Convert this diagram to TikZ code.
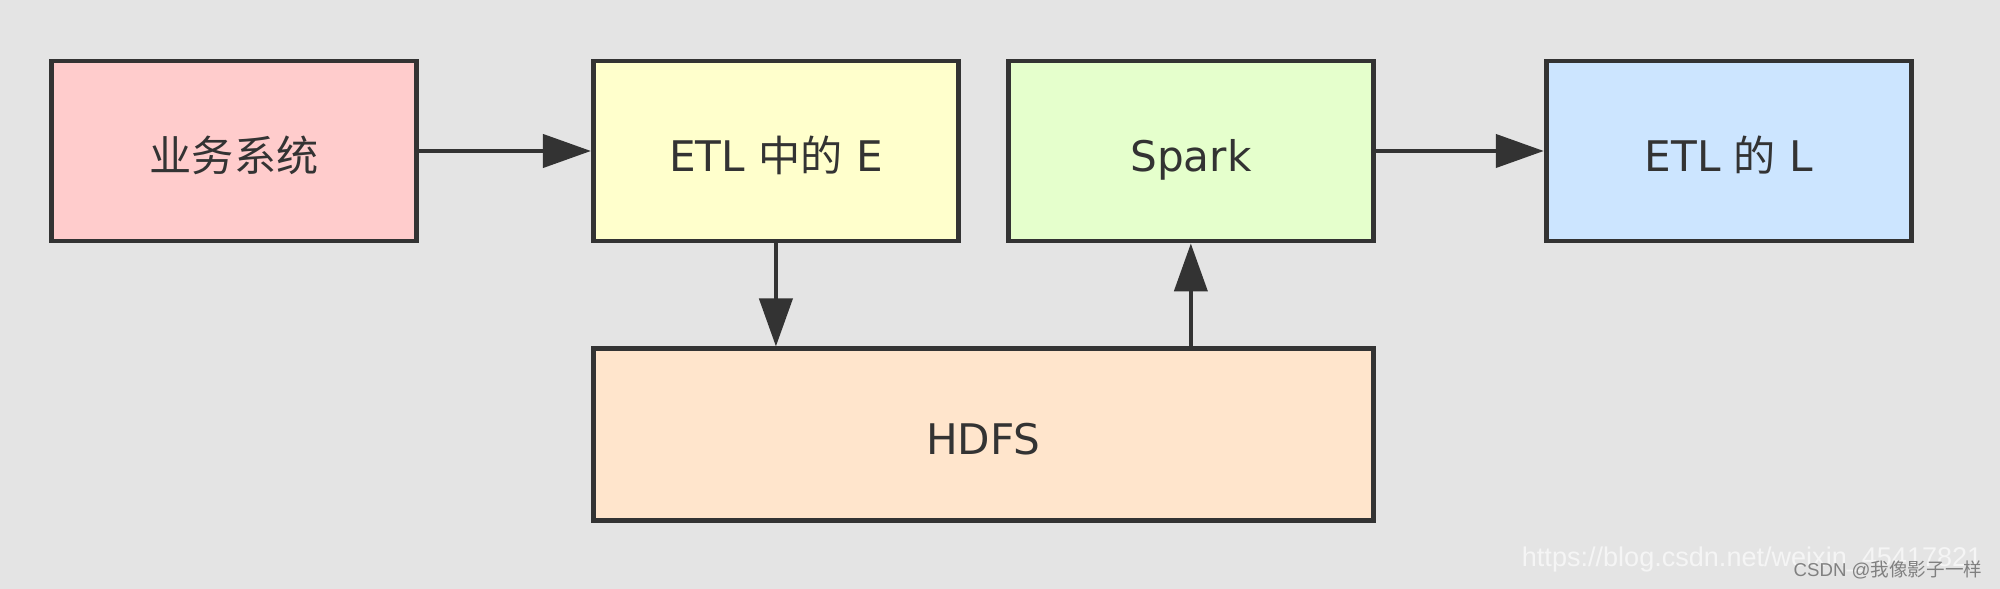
\documentclass[tikz,border=0pt]{standalone}
\usepackage{fontspec}
\setmainfont{DejaVu Sans}
\newfontfamily\cjk{Noto Sans CJK SC}
\newfontfamily\wmfont{Liberation Sans}
\usepackage{xcolor}
\usepackage{tikz}
\usetikzlibrary{arrows.meta,positioning}

\definecolor{bgGray}{HTML}{E4E4E4}
\definecolor{lineDark}{HTML}{333333}
\definecolor{pinkFill}{HTML}{FFCCCC}
\definecolor{yellowFill}{HTML}{FFFFCC}
\definecolor{greenFill}{HTML}{E5FFCC}
\definecolor{blueFill}{HTML}{CCE5FF}
\definecolor{peachFill}{HTML}{FFE5CC}

\begin{document}
\begin{tikzpicture}[
    >={Triangle[length=4.8mm, width=3.3mm]},
    box/.style={
        rectangle, draw=lineDark, line width=1.4pt,
        minimum width=3.65cm, minimum height=1.80cm,
        text height=12.8pt, text depth=1.4pt,
        text=lineDark, font=\fontsize{12pt}{14pt}\selectfont
    },
    flow/.style={->, draw=lineDark, line width=1.2pt}
]

    % background and size
    \useasboundingbox [fill=bgGray] (0,0) rectangle (20,5.89);

    % top row
    \node [box, fill=pinkFill] (biz) at (2.34,4.38) {\cjk 业务系统};
    \node [box, fill=yellowFill, right=1.72cm of biz] (etlE) {ETL {\cjk 中的} E};
    \node [box, fill=greenFill, right=0.45cm of etlE] (spark) {Spark};
    \node [box, fill=blueFill, right=1.68cm of spark] (etlL) {ETL {\cjk 的} L};

    % storage
    \node [box, fill=peachFill, minimum width=7.80cm, minimum height=1.72cm,
           below right=1.03cm and 0cm of etlE.south west] (hdfs) {HDFS};

    % Arrows
    \draw [flow] (biz) -- (etlE);
    \draw [flow] (spark) -- (etlL);
    \draw [flow] (etlE.south) -- (etlE.south |- hdfs.north);
    \draw [flow] (spark.south |- hdfs.north) -- (spark.south);

    % watermark
    \node [anchor=base east, inner sep=0pt, text=white!92!gray,
           font=\wmfont\fontsize{7.7pt}{8pt}\selectfont] (wmUrl) at (19.83,0.22)
        {https://blog.csdn.net/weixin\_45417821};
    \node [anchor=base east, inner sep=0pt, text=gray,
           font=\wmfont\fontsize{5.3pt}{6pt}\selectfont] (wmName) at (19.83,0.12)
        {CSDN @{\cjk 我像影子一样}};

\end{tikzpicture}
\end{document}
